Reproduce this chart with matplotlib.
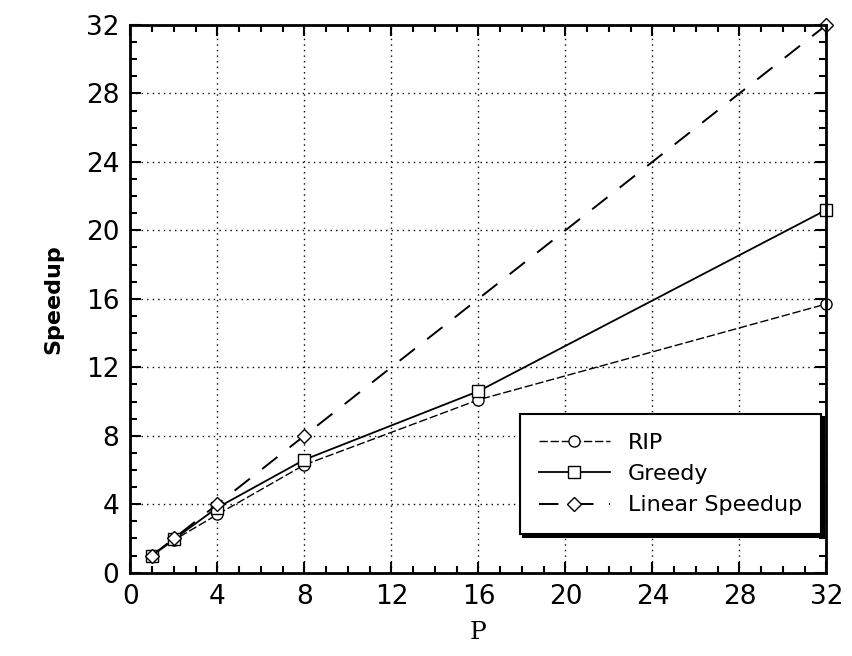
import numpy as np
import matplotlib
matplotlib.use("Agg")
import matplotlib.pyplot as plt
from matplotlib.ticker import MultipleLocator

# processor counts and measured speedups
procs = [1, 2, 4, 8, 16, 32]
rip = [1.0, 1.9, 3.4, 6.3, 10.1, 15.7]
greedy = [1.0, 1.95, 3.8, 6.6, 10.6, 21.2]
linear_procs = [1, 2, 4, 8, 32]
linear = [1, 2, 4, 8, 32]
ticks = [0, 4, 8, 12, 16, 20, 24, 28, 32]

fig = plt.figure(figsize=(8.52, 6.56), dpi=100)
ax = fig.add_axes([0.153, 0.127, 0.817, 0.835])

ax.plot(procs, rip, color="black", lw=1.0, ls=(0, (6, 2)), clip_on=False,
        marker="o", ms=8, mfc="white", mec="black", label="RIP")
ax.plot(procs, greedy, color="black", lw=1.3, ls="-", clip_on=False,
        marker="s", ms=8, mfc="white", mec="black", label="Greedy")
ax.plot(linear_procs, linear, color="black", lw=1.4, ls=(0, (10, 8)), clip_on=False,
        marker="D", ms=7, mfc="white", mec="black", label="Linear Speedup")

ax.set_xlim(0, 32)
ax.set_ylim(0, 32)
ax.set_xticks(ticks)
ax.set_yticks(ticks)
ax.xaxis.set_minor_locator(MultipleLocator(1))
ax.yaxis.set_minor_locator(MultipleLocator(1))
ax.tick_params(which="both", direction="in", top=True, right=True, width=1.5)
ax.tick_params(which="major", length=8, labelsize=19, pad=8)
ax.tick_params(which="minor", length=5)
for s in ax.spines.values():
  s.set_linewidth(2)

ax.grid(True, which="major", ls=(0, (1, 3)), color="black", lw=1.0)

ax.set_ylabel("Speedup", fontsize=16, fontweight="bold", labelpad=16)
ax.set_xlabel("P", fontsize=18, family="DejaVu Serif", labelpad=8)

leg = ax.legend(loc="lower right", bbox_to_anchor=(1.008, 0.05), fontsize=16,
                frameon=True, fancybox=False, shadow={"color": "black", "alpha": 1},
                handlelength=3.2, borderpad=0.85, labelspacing=0.5, framealpha=1)
leg.get_frame().set_edgecolor("black")
leg.get_frame().set_linewidth(1.5)

fig.savefig("out.png", dpi=100)
